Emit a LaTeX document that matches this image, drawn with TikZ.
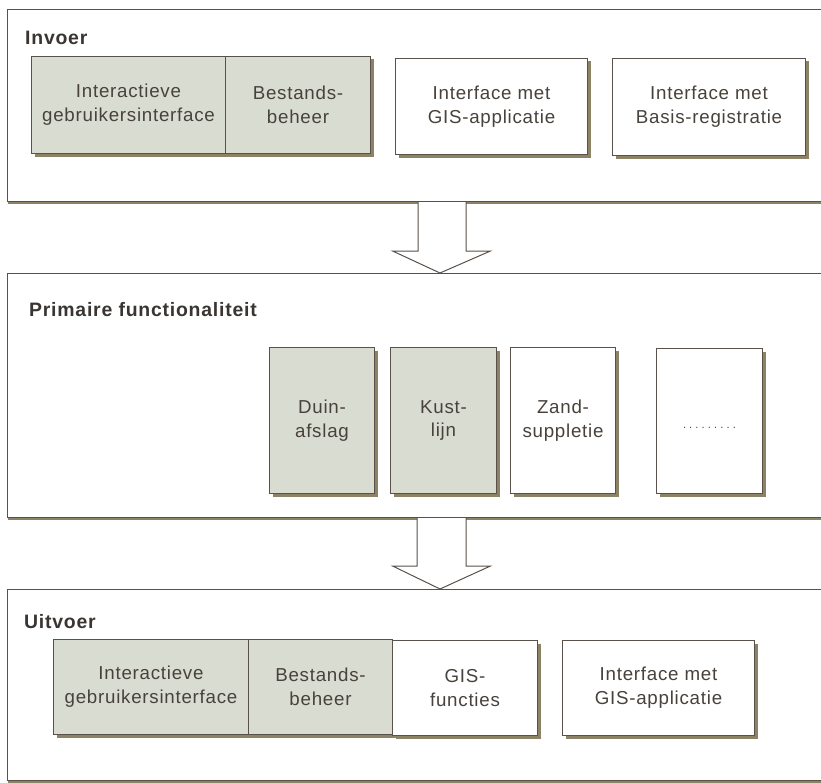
\documentclass[tikz,border=0pt]{standalone}
\usepackage{fontspec}
\setmainfont{Liberation Sans}[LetterSpace=4]
\usetikzlibrary{shadows,calc}

\definecolor{ink}{HTML}{48423C}
\definecolor{headink}{HTML}{3A3532}
\definecolor{edge}{HTML}{5A514A}
\definecolor{shade}{HTML}{8C8266}
\definecolor{sandfill}{HTML}{D9DCD1}

\newcommand\dotrow{.\kern3.2bp.\kern3.2bp.\kern3.2bp.\kern3.2bp.\kern3.2bp.\kern3.2bp.\kern3.2bp.\kern3.2bp.}

\tikzset{
  panel/.style={draw=edge, line width=1.2bp, fill=white, anchor=north west,
    inner sep=0pt, minimum width=840bp,
    drop shadow={shadow xshift=0bp, shadow yshift=-2bp, fill=shade, opacity=1}},
  heading/.style={anchor=west, inner sep=0pt, text=headink,
    font=\fontsize{19.5}{23}\selectfont\bfseries},
  module/.style={draw=edge, line width=1bp, fill=white, anchor=north west,
    align=center, inner sep=0pt, text=ink,
    font=\fontsize{18.8}{24}\selectfont,
    drop shadow={shadow xshift=3bp, shadow yshift=-3bp, fill=shade, opacity=1}},
  shaded/.style={module, fill=sandfill},
  flow/.style={draw=edge, line width=1bp, fill=white, line join=miter}
}

\begin{document}
\begin{tikzpicture}[x=1bp, y=-1bp]
\useasboundingbox (0,0) rectangle (821,783);
\fill[white] (0,0) rectangle (821,783);

% three layers
\node[panel, minimum height=192bp] (invoer)  at (7,9)   {};
\node[panel, minimum height=244bp] (primair) at (7,273) {};
\node[panel, minimum height=191bp] (uitvoer) at (7,589) {};

\node[heading] (hin)  at (25,38)  {Invoer};
\node[heading] (hpf)  at (29,310) {Primaire functionaliteit};
\node[heading] (huit) at (24,622) {Uitvoer};

% input modules
\node[shaded, minimum width=194bp, minimum height=97bp] (gui1) at (31,56)
  {Interactieve\\gebruikersinterface};
\node[shaded, minimum width=145bp, minimum height=97bp] (file1) at (225,56)
  {Bestands-\\beheer};
\node[module, minimum width=192bp, minimum height=96bp] (gisin) at (395,58)
  {Interface met\\GIS-applicatie};
\node[module, minimum width=193bp, minimum height=97bp] (basis) at (612,58)
  {Interface met\\Basis-registratie};

% primary functions
\node[shaded, minimum width=105bp, minimum height=146bp] (duin) at (269,347)
  {Duin-\\afslag};
\node[shaded, minimum width=106bp, minimum height=146bp] (kust) at (390,347)
  {Kust-\\lijn};
\node[module, minimum width=105bp, minimum height=146bp] (zand) at (510,347)
  {Zand-\\suppletie};
\node[module, minimum width=106bp, minimum height=145bp,
      font=\fontsize{11}{13}\selectfont] (more) at (656,348)
  {\smash{\raisebox{-7bp}{\dotrow}}};

% output modules
\node[shaded, minimum width=195bp, minimum height=95bp] (gui2) at (53,639)
  {Interactieve\\gebruikersinterface};
\node[shaded, minimum width=144bp, minimum height=95bp] (file2) at (248,639)
  {Bestands-\\beheer};
\node[module, minimum width=145bp, minimum height=95bp] (gisfun) at (392,640)
  {GIS-\\functies};
\node[module, minimum width=192bp, minimum height=95bp] (gisout) at (562,640)
  {Interface met\\GIS-applicatie};

% block arrows between the layers
\coordinate (a1s) at ($(invoer.south west)+(435,0)$);
\coordinate (a1t) at ($(primair.north west)+(433,0)$);
\coordinate (a2s) at ($(primair.south west)+(435,0)$);
\coordinate (a2t) at ($(uitvoer.north west)+(433,0)$);

\draw[flow] ($(a1s)+(-24,0)$) -- ($(a1s)+(-24,49)$) -- ($(a1s)+(-49,49)$)
  -- (a1t) -- ($(a1s)+(48,49)$) -- ($(a1s)+(24,49)$) -- ($(a1s)+(24,0)$);
\draw[flow] ($(a2s)+(-25,0)$) -- ($(a2s)+(-25,48)$) -- ($(a2s)+(-49,48)$)
  -- (a2t) -- ($(a2s)+(48,48)$) -- ($(a2s)+(24,48)$) -- ($(a2s)+(24,0)$);
\end{tikzpicture}
\end{document}
